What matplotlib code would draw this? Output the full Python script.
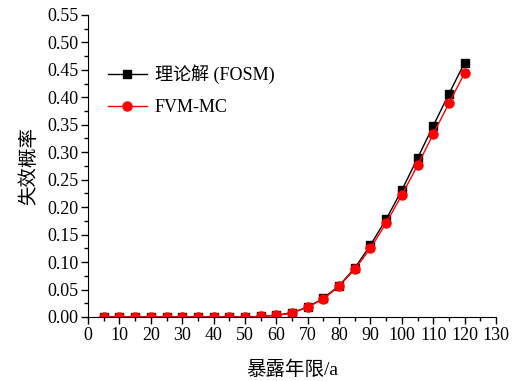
import numpy as np
import matplotlib.pyplot as plt
from matplotlib.ticker import MultipleLocator

plt.rcParams['font.family'] = ['Liberation Serif', 'Noto Sans CJK SC']
plt.rcParams['axes.unicode_minus'] = False

years = np.arange(5, 125, 5)
p_fosm = [0, 0, 0, 0, 0, 0, 0, 0, 0, 0, 0.001, 0.003, 0.008, 0.018, 0.034, 0.057,
          0.089, 0.131, 0.178, 0.231, 0.289, 0.348, 0.406, 0.463]
p_fvm = [0, 0, 0, 0, 0, 0, 0, 0, 0, 0, 0.001, 0.003, 0.007, 0.018, 0.033, 0.056,
         0.087, 0.125, 0.171, 0.222, 0.276, 0.333, 0.389, 0.444]

fig = plt.figure(figsize=(5.18, 3.81), dpi=100)
ax = fig.add_axes([0.17, 0.168, 0.7875, 0.793])

ax.plot(years, p_fosm, color='black', marker='s', markersize=6, lw=1, label='理论解 (FOSM)')
ax.plot(years, p_fvm, color='red', marker='o', markersize=6.5, lw=1, label='FVM-MC')

ax.set_xlim(0, 130)
ax.set_ylim(0, 0.55)
ax.xaxis.set_major_locator(MultipleLocator(10))
ax.xaxis.set_minor_locator(MultipleLocator(5))
ax.yaxis.set_major_locator(MultipleLocator(0.05))
ax.yaxis.set_minor_locator(MultipleLocator(0.025))
ax.yaxis.set_major_formatter(plt.FormatStrFormatter('%.2f'))

ax.spines['top'].set_visible(False)
ax.spines['right'].set_visible(False)
ax.tick_params(which='major', direction='out', length=5, width=1, labelsize=13, pad=2)
ax.tick_params(which='minor', direction='out', length=3, width=1)

ax.set_xlabel('暴露年限/a', fontsize=14, labelpad=12)
ax.set_ylabel('失效概率', fontsize=14, labelpad=6)

ax.legend(loc='upper left', bbox_to_anchor=(0.008, 0.89), frameon=False, fontsize=13,
          handlelength=2.2, handletextpad=0.4, labelspacing=0.85)

fig.savefig('out.png', dpi=100)
